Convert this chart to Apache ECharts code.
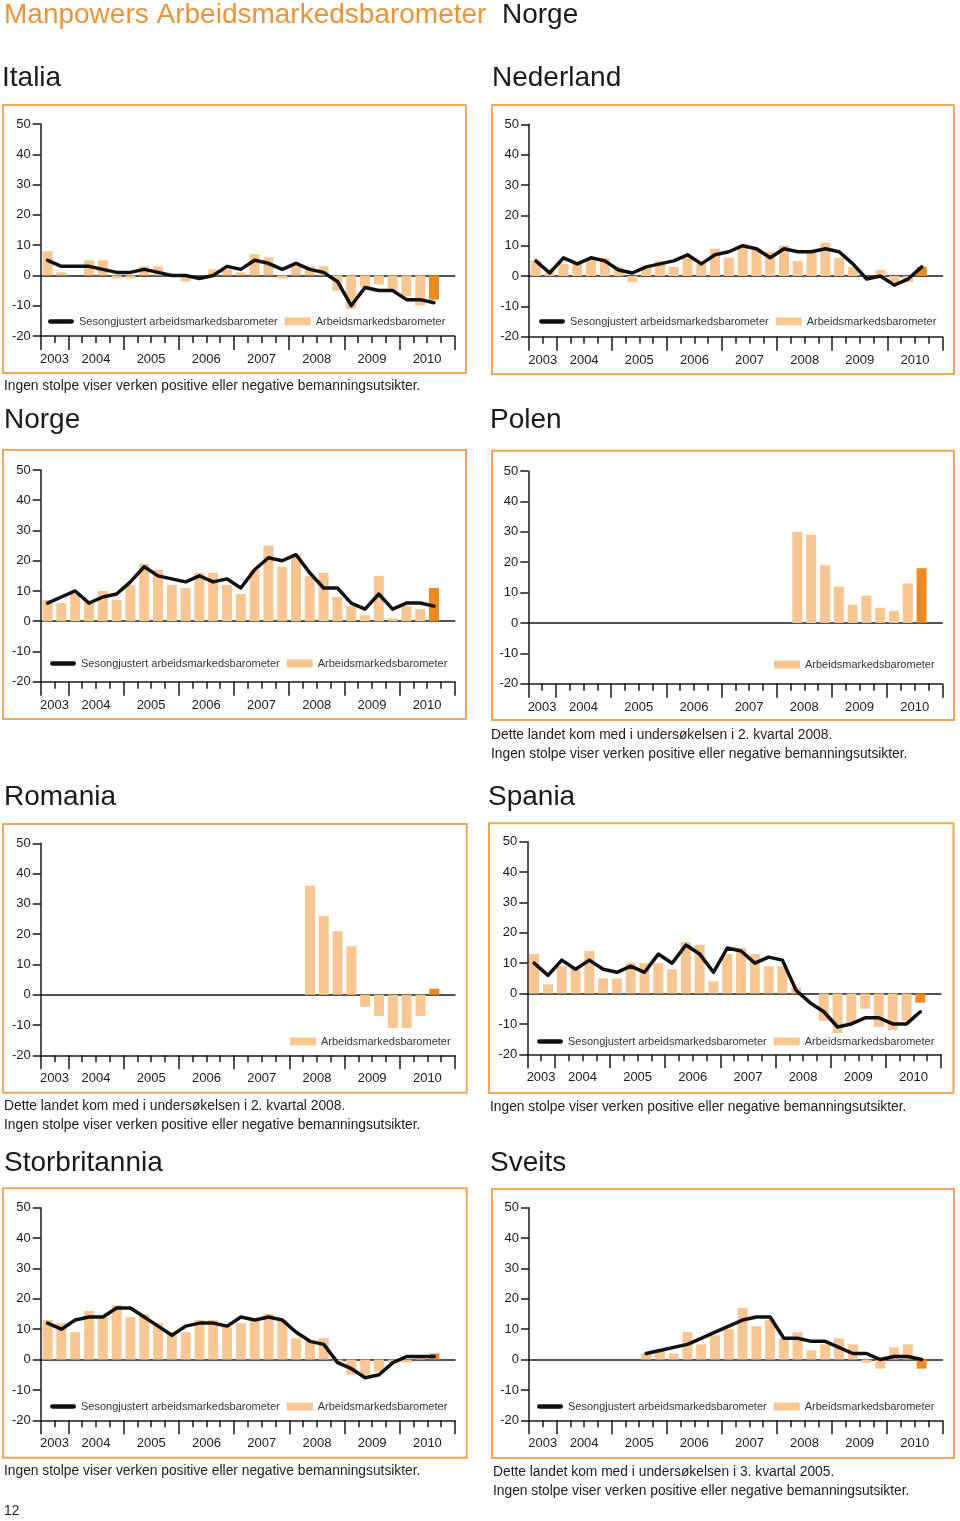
<!DOCTYPE html>
<html><head><meta charset="utf-8">
<script src="https://cdn.jsdelivr.net/npm/echarts@6/dist/echarts.min.js"></script>
<style>html,body{margin:0;padding:0;background:#fff}#c{width:960px;height:1521px}</style>
</head><body><div id="c"></div>
<script>
// ---------- DATA ----------
const quarters = ['2003 K3','2003 K4',
  '2004 K1','2004 K2','2004 K3','2004 K4',
  '2005 K1','2005 K2','2005 K3','2005 K4',
  '2006 K1','2006 K2','2006 K3','2006 K4',
  '2007 K1','2007 K2','2007 K3','2007 K4',
  '2008 K1','2008 K2','2008 K3','2008 K4',
  '2009 K1','2009 K2','2009 K3','2009 K4',
  '2010 K1','2010 K2','2010 K3','2010 K4'];
const years = ['2003','2004','2005','2006','2007','2008','2009','2010'];

const italiaBars = [8,1,0,5,5,-1,-1,3,3,0,-2,0,2,2,1,7,6,-1,3,3,3,-5,-11,-4,-3,-5,-7,-10,-8];
const italiaLine = [5,3,3,3,2,1,1,2,1,0,0,-1,0,3,2,5,4,2,4,2,1,-2,-10,-4,-5,-5,-8,-8,-9];

const nederlandBars = [5,1,4,4,6,6,3,-2,3,5,3,6,4,9,6,10,9,8,10,5,8,11,6,3,0,2,-2,-2,3];
const nederlandLine = [5,1,6,4,6,5,2,1,3,4,5,7,4,7,8,10,9,6,9,8,8,9,8,4,-1,0,-3,-1,3];

const norgeBars = [7,6,9,6,10,7,12,19,17,12,11,16,16,12,9,17,25,18,22,15,16,8,5,2,15,1,5,4,11];
const norgeLine = [6,8,10,6,8,9,13,18,15,14,13,15,13,14,11,17,21,20,22,16,11,11,6,4,9,4,6,6,5];

const polenBars = [null,null,null,null,null,null,null,null,null,null,null,null,null,null,null,null,null,null,null,
  30,29,19,12,6,9,5,4,13,18];

const romaniaBars = [null,null,null,null,null,null,null,null,null,null,null,null,null,null,null,null,null,null,null,
  36,26,21,16,-4,-7,-11,-11,-7,2];

const spaniaBars = [13,3,9,8,14,5,5,10,10,10,8,17,16,4,13,15,13,9,9,2,0,-9,-13,-10,-5,-11,-12,-9,-3];
const spaniaLine = [10,6,11,8,11,8,7,9,7,13,10,16,13,7,15,14,10,12,11,1,-3,-6,-11,-10,-8,-8,-10,-10,-6];

const storbritanniaBars = [13,12,9,16,14,18,14,15,12,9,9,13,13,11,12,13,15,13,7,6,7,-1,-5,-5,-4,-1,-1,1,2];
const storbritanniaLine = [12,10,13,14,14,17,17,14,11,8,11,12,12,11,14,13,14,13,9,6,5,-1,-3,-6,-5,-1,1,1,1];

const sveitsBars = [null,null,null,null,null,null,null,null,
  2,3,2,9,5,8,10,17,11,13,7,9,3,5,7,5,-1,-3,4,5,-3];
const sveitsLine = [null,null,null,null,null,null,null,null,
  2,3,4,5,7,9,11,13,14,14,7,7,6,6,4,2,2,0,1,1,0];

const yTicks = [-20,-10,0,10,20,30,40,50];

const mainTitle = 'Manpowers Arbeidsmarkedsbarometer';
const mainTitleCountry = 'Norge';
const lineName = 'Sesongjustert arbeidsmarkedsbarometer';
const barName = 'Arbeidsmarkedsbarometer';
const noteNone = 'Ingen stolpe viser verken positive eller negative bemanningsutsikter.';
const noteQ2_2008 = 'Dette landet kom med i undersøkelsen i 2. kvartal 2008.';
const noteQ3_2005 = 'Dette landet kom med i undersøkelsen i 3. kvartal 2005.';
const pageNumber = '12';

// ---------- LAYOUT ----------
const FONT = '"Liberation Sans", Arial, Helvetica, sans-serif';
const LIGHT = '#F8C693';
const DARK = '#EC8A22';
const BORDER = '#EEA859';
const INK = '#1a1a1a';
const LINE_ICON = 'path://M0,0L0.01,0Z M2,1.8L24,1.8A2.2,2.2,0,0,1,24,6.2L2,6.2A2.2,2.2,0,0,1,2,1.8Z M0,8L0.01,8Z';

const panels = [
  {title:'Italia', bars:italiaBars, line:italiaLine, titleXY:[2,78], box:[3,105,463,268], grid:[40.7,124,414,212], legend:[48,323], notes:[noteNone], notesXY:[4,386]},
  {title:'Nederland', bars:nederlandBars, line:nederlandLine, titleXY:[492,78], box:[492,105,462,269], grid:[529,124.3,413.5,212.4], legend:[539,323], notes:[], notesXY:[0,0]},
  {title:'Norge', bars:norgeBars, line:norgeLine, titleXY:[4,420], box:[3,450,463,269], grid:[40.7,470,414,211.7], legend:[50,665], notes:[], notesXY:[0,0]},
  {title:'Polen', bars:polenBars, line:null, titleXY:[490,420], box:[492,450.7,462,269.3], grid:[528.3,471,414,212.7], legend:[774,666], notes:[noteQ2_2008, noteNone], notesXY:[491,735]},
  {title:'Romania', bars:romaniaBars, line:null, titleXY:[4,797], box:[3,824,463.7,268.7], grid:[40.7,843.3,414.3,212], legend:[290,1043], notes:[noteQ2_2008, noteNone], notesXY:[4,1106]},
  {title:'Spania', bars:spaniaBars, line:spaniaLine, titleXY:[488,797], box:[489,823.3,464.5,269.7], grid:[527.3,841.7,413.7,212.6], legend:[537,1043], notes:[noteNone], notesXY:[490,1107]},
  {title:'Storbritannia', bars:storbritanniaBars, line:storbritanniaLine, titleXY:[4,1163], box:[3,1188.3,463.7,269.4], grid:[40.7,1207.7,414.3,212.6], legend:[50,1408], notes:[noteNone], notesXY:[4,1471]},
  {title:'Sveits', bars:sveitsBars, line:sveitsLine, titleXY:[490,1163], box:[492,1189,462,269], grid:[529,1207.7,413.3,212.6], legend:[537,1408], notes:[noteQ3_2005, noteNone], notesXY:[493,1472]}
];

// year positions derived from quarters
const nQ = quarters.length;
const yearStart = years.map(y => quarters.findIndex(q => q.startsWith(y)));
const yearEnd = years.map((y, i) => i + 1 < years.length ? yearStart[i + 1] : nQ);
const yearCenters = years.map((y, i) => (yearStart[i] + yearEnd[i]) / 2);
const majorTicks = [0].concat(yearEnd);
const yearAt = {};
yearCenters.forEach((c, i) => { yearAt[c] = years[i]; });

const axisLineStyle = {color: INK, width: 1.5};

const option = {
  animation: false,
  backgroundColor: '#fff',
  textStyle: {fontFamily: FONT},
  grid: [], xAxis: [], yAxis: [], series: [], legend: [], graphic: []
};

panels.forEach((p, i) => {
  option.grid.push({left: p.grid[0], top: p.grid[1], width: p.grid[2], height: p.grid[3]});
  option.xAxis.push({
    gridIndex: i, type: 'value', min: 0, max: nQ, position: 'bottom',
    axisLine: {show: true, onZero: false, lineStyle: axisLineStyle},
    axisTick: {show: true, length: 14, customValues: majorTicks, lineStyle: axisLineStyle},
    axisLabel: {show: true, customValues: yearCenters, formatter: v => yearAt[v] || '', margin: 17,
      fontSize: 13, color: INK, fontFamily: FONT},
    splitLine: {show: false}
  });
  option.xAxis.push({
    gridIndex: i, type: 'value', min: 0, max: nQ, interval: 1, position: 'bottom',
    axisLine: {show: false, onZero: false},
    axisTick: {show: true, length: 7, lineStyle: axisLineStyle},
    axisLabel: {show: false}, splitLine: {show: false}
  });
  option.xAxis.push({
    gridIndex: i, type: 'value', min: 0, max: nQ, position: 'bottom',
    axisLine: {show: true, onZero: true, lineStyle: axisLineStyle},
    axisTick: {show: false}, axisLabel: {show: false}, splitLine: {show: false}
  });
  option.yAxis.push({
    gridIndex: i, type: 'value', min: yTicks[0], max: yTicks[yTicks.length - 1], interval: 10,
    axisLine: {show: true, onZero: false, lineStyle: axisLineStyle},
    axisTick: {show: true, length: 8, lineStyle: axisLineStyle},
    axisLabel: {margin: 10, fontSize: 13, color: INK, fontFamily: FONT},
    splitLine: {show: false}
  });

  let last = -1;
  p.bars.forEach((v, k) => { if (v != null) last = k; });
  const barData = [];
  p.bars.forEach((v, k) => {
    if (v == null) return;
    const item = {value: [k + 0.5, v]};
    if (k === last) item.itemStyle = {color: DARK};
    barData.push(item);
  });
  option.series.push({
    type: 'bar', name: barName, xAxisIndex: 3 * i, yAxisIndex: i,
    barWidth: 10, itemStyle: {color: LIGHT}, data: barData, z: 2
  });
  const legendData = [];
  if (p.line) {
    const lineData = [];
    p.line.forEach((v, k) => { if (v != null) lineData.push([k + 0.5, v]); });
    option.series.push({
      type: 'line', name: lineName, xAxisIndex: 3 * i, yAxisIndex: i,
      symbol: 'none', showSymbol: false, data: lineData, z: 4,
      itemStyle: {color: '#111'},
      lineStyle: {color: '#111', width: 3.5, cap: 'round', join: 'round'}
    });
    legendData.push({name: lineName, icon: LINE_ICON, itemStyle: {color: '#111', borderWidth: 0}});
  }
  legendData.push({name: barName, icon: 'rect', itemStyle: {color: LIGHT, borderWidth: 0}});
  option.legend.push({
    left: p.legend[0], top: p.legend[1] - 7, orient: 'horizontal', padding: 0,
    itemWidth: 26, itemHeight: 8, itemGap: 7, selectedMode: false,
    textStyle: {fontSize: 11, color: '#333', fontFamily: FONT},
    data: legendData
  });

  option.graphic.push({
    type: 'rect', silent: true, z: 0,
    shape: {x: p.box[0], y: p.box[1], width: p.box[2], height: p.box[3]},
    style: {fill: 'none', stroke: BORDER, lineWidth: 2}
  });
  option.graphic.push({
    type: 'text', silent: true,
    style: {text: p.title, x: p.titleXY[0], y: p.titleXY[1], fill: INK,
      font: '28px ' + FONT, verticalAlign: 'middle', align: 'left'}
  });
  p.notes.forEach((t, k) => {
    option.graphic.push({
      type: 'text', silent: true,
      style: {text: t, x: p.notesXY[0], y: p.notesXY[1] + k * 19.5, fill: INK,
        font: '13.8px ' + FONT, verticalAlign: 'middle', align: 'left'}
    });
  });
});

option.graphic.push({
  type: 'text', silent: true,
  style: {text: mainTitle, x: 4, y: 15, fill: '#E8943A', font: '28px ' + FONT, verticalAlign: 'middle'}
});
option.graphic.push({
  type: 'text', silent: true,
  style: {text: mainTitleCountry, x: 502, y: 15, fill: INK, font: '28px ' + FONT, verticalAlign: 'middle'}
});
option.graphic.push({
  type: 'text', silent: true,
  style: {text: pageNumber, x: 4, y: 1511, fill: INK, font: '13.8px ' + FONT, verticalAlign: 'middle'}
});

const chart = echarts.init(document.getElementById('c'), null, {renderer: 'canvas'});
chart.setOption(option);
</script>
</body></html>
